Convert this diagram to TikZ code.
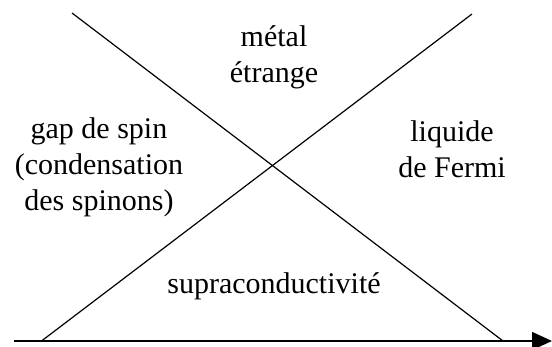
\documentclass[tikz,border=0pt]{standalone}
\usepackage{fontspec}
\setmainfont{Liberation Serif}
\usetikzlibrary{arrows.meta}

\begin{document}
\begin{tikzpicture}[x=1pt,y=1pt,
  phase/.style={align=center,inner sep=0pt,font=\fontsize{30}{36}\selectfont},
  border/.style={line width=1.2pt},
  axis/.style={line width=1.5pt,-{Triangle[length=20pt,width=18pt]}}]

\useasboundingbox (0,0) rectangle (552,347);

% the two phase borders
\coordinate (desctop) at (72,334);
\coordinate (descbot) at (503,6);
\coordinate (ascbot) at (41.5,6);
\coordinate (asctop) at (472,333);
\draw[border] (desctop) -- (descbot);
\draw[border] (ascbot) -- (asctop);

% horizontal axis
\coordinate (axstart) at (14,6);
\coordinate (axend) at (552,6);
\draw[axis] (axstart) -- (axend);

% phase labels
\node[phase] (metal) at (274,290) {métal\\étrange};
\node[phase] (gap) at (99,180) {gap de spin\\(condensation\\des spinons)};
\node[phase] (fermi) at (452,198) {liquide\\de Fermi};
\node[phase] (supra) at (274,61) {supraconductivité};

\end{tikzpicture}
\end{document}
